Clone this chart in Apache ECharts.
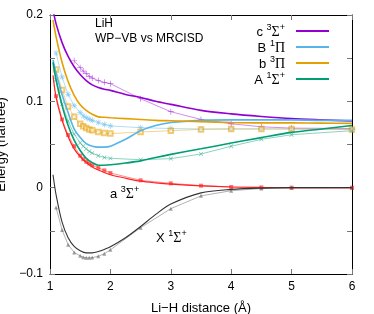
<!DOCTYPE html>
<html><head><meta charset="utf-8">
<script src="https://cdn.jsdelivr.net/npm/echarts@6/dist/echarts.min.js"></script>
<style>html,body{margin:0;padding:0;background:#fff}#c{width:374px;height:314px}</style>
</head><body><div id="c"></div>
<script>
// MRCISD grid (thick lines)
const rMR = [1.05,1.1,1.2,1.3,1.4,1.5,1.6,1.7,1.8,1.9,2.0,2.25,2.5,2.75,3.0,3.5,4.0,4.5,5.0,5.5,6.0];
const c_MR = [0.206,0.19,0.168,0.152,0.140,0.131,0.124,0.119,0.116,0.114,0.1127,0.108,0.1045,0.100,0.0965,0.0895,0.0855,0.0825,0.080,0.0785,0.0772];
const B_MR = [0.148,0.133,0.108,0.087,0.068,0.058,0.051,0.048,0.047,0.047,0.048,0.056,0.066,0.072,0.0755,0.078,0.0785,0.0785,0.0785,0.078,0.078];
const b_MR = [0.194,0.175,0.145,0.123,0.107,0.096,0.0895,0.085,0.082,0.0815,0.081,0.080,0.079,0.078,0.0775,0.0765,0.0755,0.075,0.075,0.0748,0.0745];
const A_MR = [0.145,0.125,0.095,0.072,0.055,0.043,0.034,0.029,0.026,0.026,0.0265,0.0285,0.031,0.035,0.0386,0.045,0.0517,0.058,0.064,0.068,0.072];
const a_MR = [0.13,0.105,0.078,0.059,0.045,0.036,0.029,0.024,0.0205,0.0175,0.015,0.011,0.0075,0.0055,0.004,0.002,0.0008,0.0003,0.0001,0.0,0.0];
const X_MR = [0.015,-0.008,-0.040,-0.058,-0.068,-0.073,-0.0755,-0.0755,-0.074,-0.0715,-0.0685,-0.058,-0.045,-0.031,-0.019,-0.006,-0.002,-0.0005,0.0,0.0,0.0];
// WP-VB grid (thin lines with markers)
const rVB = [1.1,1.2,1.3,1.4,1.5,1.55,1.6,1.65,1.7,1.8,1.9,2.0,2.5,3.0,3.5,4.0,4.5,5.0,6.0];
const c_VB = [null,null,null,0.147,0.139,0.135,0.132,0.129,0.127,0.124,0.122,0.1205,0.103,0.088,0.079,0.074,0.0705,0.069,0.0685];
const B_VB = [0.156,0.128,0.108,0.095,0.087,0.083,0.081,0.0795,0.078,0.0755,0.0733,0.0715,0.0695,0.0685,0.068,0.068,0.068,0.068,0.0675];
const b_VB = [0.137,0.113,0.094,0.082,0.074,0.071,0.069,0.0675,0.0665,0.0645,0.0632,0.0626,0.0645,0.066,0.0675,0.068,0.068,0.068,0.0675];
const A_VB = [0.125,0.097,0.077,0.062,0.052,0.048,0.045,0.042,0.040,0.037,0.035,0.034,0.0324,0.0336,0.039,0.048,0.056,0.0613,0.066];
const a_VB = [0.106,0.079,0.061,0.048,0.037,0.033,0.030,0.028,0.026,0.023,0.020,0.017,0.0085,0.005,0.0023,0.0008,0.0003,0.0,0.0];
const X_VB = [-0.023,-0.049,-0.066,-0.075,-0.079,-0.0805,-0.0812,-0.0813,-0.081,-0.0795,-0.0765,-0.072,-0.0464,-0.0243,-0.0095,-0.0035,-0.001,-0.0002,0.0];
const xTicks = [1,2,3,4,5,6];
const yTicks = [-0.1,0,0.1,0.2];

const zip = (xs, ys) => xs.map((x,i)=>[x, ys[i]]);
const FONT = 'Liberation Sans';
const PLUS = 'path://M4.4,0H5.6V10H4.4Z M0,4.4H10V5.6H0Z';
const STAR = 'path://M4.4,0H5.6V10H4.4Z M0,4.4H10V5.6H0Z M1,1.8L1.8,1L9,8.2L8.2,9Z M8.2,1L9,1.8L1.8,9L1,8.2Z';

const thick = (name, data, color, w) => ({
  name, type:'line', data: zip(rMR, data), smooth: 0.3, symbol:'none',
  lineStyle:{color, width:w}, itemStyle:{color}, z:3
});
const thin = (name, data, color, sym, size, rot) => ({
  name, type:'line', data: zip(rVB, data), symbol: sym, symbolSize: size, symbolRotate: rot||0,
  lineStyle:{color, width:1, opacity:0.45}, itemStyle:{color, opacity:0.55}, z:2
});

const rich = {
  t:{fontFamily:FONT, fontSize:13, color:'#000', lineHeight:16, verticalAlign:'bottom'},
  s:{fontFamily:FONT, fontSize:9, color:'#000', lineHeight:16, verticalAlign:'top'},
  g:{fontFamily:'Liberation Serif', fontSize:14, color:'#000', lineHeight:16, verticalAlign:'bottom'}
};
const legendText = {
  'c': '{t|c }{s|3}{g|Σ}{s|+}',
  'B': '{t|B }{s|1}{g|Π}',
  'b': '{t|b }{s|3}{g|Π}',
  'A': '{t|A }{s|1}{g|Σ}{s|+}'
};

const chart = echarts.init(document.getElementById('c'), null, {renderer:'canvas'});
const axisCommon = {
  axisLine:{show:true, onZero:false, lineStyle:{color:'#000', width:1}},
  axisTick:{show:true, inside:true, length:5, lineStyle:{color:'#777'}},
  splitLine:{show:false}
};
chart.setOption({
  animation:false,
  grid:{left:50, top:15, right:22, bottom:40, containLabel:false, outerBoundsMode:'none'},
  legend:{
    orient:'vertical', right:45, top:23, padding:0, itemGap:0, align:'right',
    itemWidth:33, itemHeight:2,
    data:['c','B','b','A'].map(n=>({name:n, icon:'rect'})),
    formatter: n => legendText[n],
    textStyle:{rich, padding:[0,6,0,0]}
  },
  xAxis:[
    Object.assign({type:'value', min:1, max:6, interval:1, position:'bottom',
      axisLabel:{color:'#000', fontFamily:FONT, fontSize:12, margin:7},
      name:'Li\u2212H distance (Å)', nameLocation:'middle', nameGap:28,
      nameTextStyle:{color:'#000', fontFamily:FONT, fontSize:13}}, axisCommon),
    Object.assign({type:'value', min:1, max:6, interval:1, position:'top', axisLabel:{show:false}}, axisCommon)
  ],
  yAxis:[
    Object.assign({type:'value', min:-0.1, max:0.2, interval:0.1, position:'left',
      minorTick:{show:true, splitNumber:2, length:5, lineStyle:{color:'#777'}},
      axisLabel:{color:'#000', fontFamily:FONT, fontSize:12, margin:7,
        formatter: v => { const r = Math.round(v*10)/10; return r===0 ? '0' : String(r).replace('-','\u2212'); }},
      name:'Energy (hartree)', nameLocation:'middle', nameGap:38,
      nameTextStyle:{color:'#000', fontFamily:FONT, fontSize:13}}, axisCommon),
    Object.assign({type:'value', min:-0.1, max:0.2, interval:0.1, position:'right',
      minorTick:{show:true, splitNumber:2, length:5, lineStyle:{color:'#777'}},
      axisLabel:{show:false}}, axisCommon)
  ],
  graphic:[
    {type:'text', left:95, top:18, style:{text:'LiH', font:'12px "Liberation Sans"', fill:'#000'}},
    {type:'text', left:95, top:33, style:{text:'WP\u2212VB vs MRCISD', font:'12px "Liberation Sans"', fill:'#000'}},
    {type:'text', left:110, top:185, style:{text:'{t|a }{s|3}{g|Σ}{s|+}', rich}},
    {type:'text', left:156, top:229, style:{text:'{t|X }{s|1}{g|Σ}{s|+}', rich}}
  ],
  series:[
    thin('c_vb', c_VB, '#9400d3', PLUS, 6),
    thin('B_vb', B_VB, '#56b4e9', STAR, 6),
    thin('b_vb', b_VB, '#e69f00', 'emptyRect', 4.5),
    thin('A_vb', A_VB, '#009e73', PLUS, 5.5, 45),
    thin('a_vb', a_VB, '#ff0000', 'rect', 4),
    thin('X_vb', X_VB, '#555555', 'triangle', 4),
    thick('c', c_MR, '#9400d3', 1.6),
    thick('B', B_MR, '#56b4e9', 1.6),
    thick('b', b_MR, '#e69f00', 1.6),
    thick('A', A_MR, '#009e73', 1.6),
    thick('a', a_MR, '#ff2020', 1.2),
    thick('X', X_MR, '#333333', 1.1)
  ]
});
</script></body></html>
